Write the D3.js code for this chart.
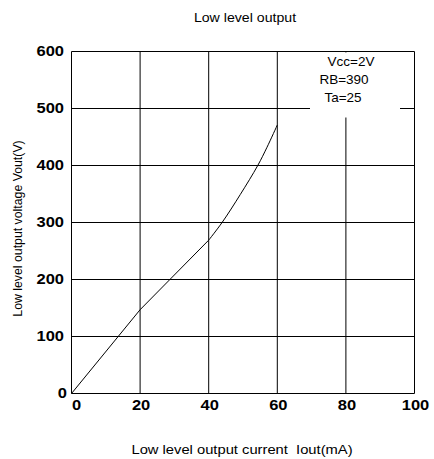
<!DOCTYPE html>
<html><head><meta charset="utf-8">
<script src="https://cdn.jsdelivr.net/npm/d3@7"></script>
<style>body{margin:0;background:#fff}svg{display:block}text{font-family:"Liberation Sans",Arial,sans-serif}</style>
</head><body>
<svg id="c" width="434" height="459"></svg>
<script>
const xTicks = [0, 20, 40, 60, 80, 100];
const yTicks = [0, 100, 200, 300, 400, 500, 600];
const currentMA = [0, 20, 40, 43.9, 49.2, 54.3, 57, 60];
const voltageOut = [0, 147, 269, 300, 349, 400, 432, 471];
const conditions = ["Vcc=2V", "RB=390", "Ta=25"];

const svg = d3.select("#c");
const x = d3.scaleLinear().domain([0, 100]).range([71.5, 414.5]);
const y = d3.scaleLinear().domain([0, 600]).range([393.5, 51.5]);
const SX = 1.18; // horizontal stretch of horizontal texts

// grid
svg.selectAll(".vx").data(xTicks).enter().append("line")
  .attr("x1", d => x(d)).attr("x2", d => x(d)).attr("y1", y(0)).attr("y2", y(600))
  .attr("stroke", "#000").attr("stroke-width", 1);
svg.selectAll(".hy").data(yTicks).enter().append("line")
  .attr("y1", d => y(d)).attr("y2", d => y(d)).attr("x1", x(0)).attr("x2", x(100))
  .attr("stroke", "#000").attr("stroke-width", 1);

// condition box (white, covers grid)
svg.append("rect").attr("x", 310).attr("y", 52.5).attr("width", 90).attr("height", 65).attr("fill", "#fff");
const condPos = [[351, 66], [344, 84], [343, 102]];
svg.selectAll(".cond").data(conditions).enter().append("text")
  .attr("x", (d, i) => condPos[i][0]).attr("y", (d, i) => condPos[i][1])
  .attr("text-anchor", "middle").attr("font-size", 13.5).text(d => d);

// curve: straight part up to 40 mA, smooth part after
const pts = currentMA.map((c, i) => [c, voltageOut[i]]);
const straight = d3.line().x(d => x(d[0])).y(d => y(d[1]));
const smooth = d3.line().x(d => x(d[0])).y(d => y(d[1])).curve(d3.curveCatmullRom.alpha(0.5));
svg.append("path").attr("d", straight(pts.filter(d => d[0] <= 40))).attr("fill", "none")
  .attr("stroke", "#000").attr("stroke-width", 1);
svg.append("path").attr("d", smooth(pts.filter(d => d[0] >= 40))).attr("fill", "none")
  .attr("stroke", "#000").attr("stroke-width", 1);

// tick labels
svg.selectAll(".xt").data(xTicks).enter().append("text")
  .attr("transform", d => `translate(${d === 0 ? x(d) + 5 : x(d) + 1},410) scale(${SX},1)`)
  .attr("text-anchor", "middle").attr("font-size", 14).attr("font-weight", "bold").text(d => d);
svg.selectAll(".yt").data(yTicks).enter().append("text")
  .attr("transform", d => `translate(${d === 0 ? 67 : 64},${y(d) + 4}) scale(${SX},1)`)
  .attr("text-anchor", "end").attr("font-size", 14).attr("font-weight", "bold").text(d => d);

// titles
svg.append("text").attr("transform", `translate(245,21.5) scale(${SX},1)`).attr("text-anchor", "middle").attr("font-size", 12).text("Low level output");
svg.append("text").attr("transform", `translate(242,454) scale(${SX},1)`).attr("text-anchor", "middle").attr("font-size", 12.5).attr("xml:space", "preserve").text("Low level output current  Iout(mA)");
svg.append("text").attr("transform", "translate(22,228.5) rotate(-90)").attr("text-anchor", "middle").attr("font-size", 12.3).text("Low level output voltage Vout(V)");
</script>
</body></html>
